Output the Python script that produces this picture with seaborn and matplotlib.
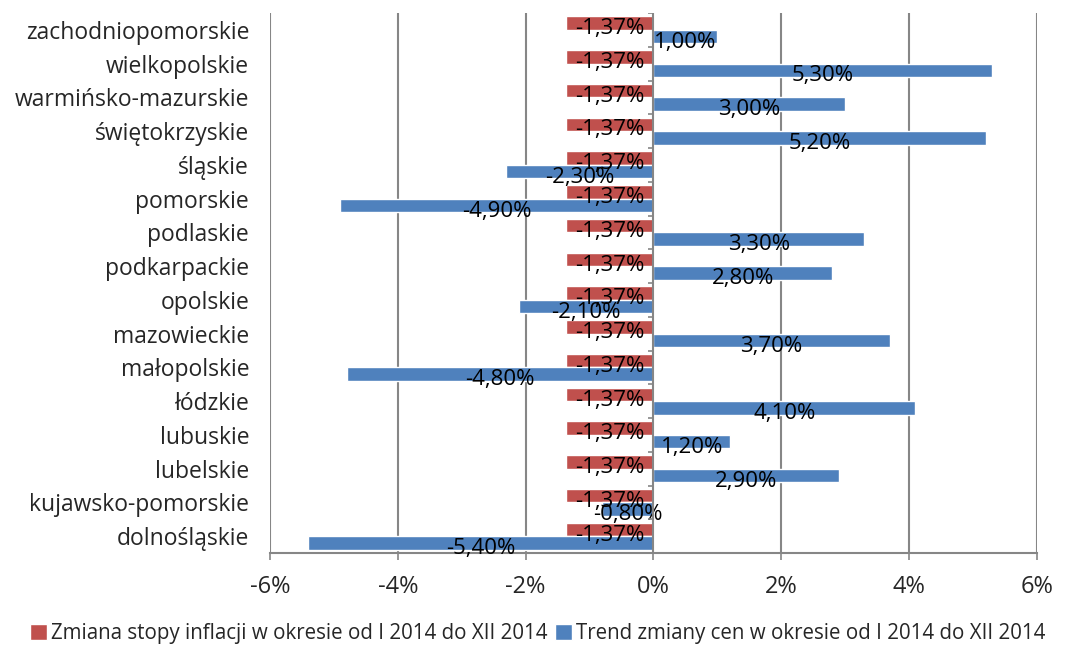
import pandas as pd
import matplotlib.pyplot as plt
import seaborn as sns
import numpy as np

# categories top to bottom, as shown in the chart
regions = ['zachodniopomorskie', 'wielkopolskie', 'warmińsko-mazurskie', 'świętokrzyskie',
           'śląskie', 'pomorskie', 'podlaskie', 'podkarpackie', 'opolskie', 'mazowieckie',
           'małopolskie', 'łódzkie', 'lubuskie', 'lubelskie', 'kujawsko-pomorskie', 'dolnośląskie']
inflation = [-1.37] * 16
trend = [1.0, 5.3, 3.0, 5.2, -2.3, -4.9, 3.3, 2.8, -2.1, 3.7, -4.8, 4.1, 1.2, 2.9, -0.8, -5.4]
series_names = ['Zmiana stopy inflacji w okresie od I 2014 do XII 2014',
                'Trend zmiany cen w okresie od I 2014 do XII 2014']
colors = ['#C0504D', '#4F81BD']

df = pd.DataFrame({
    'region': regions * 2,
    'value': inflation + trend,
    'series': [series_names[0]] * 16 + [series_names[1]] * 16,
})

sns.set_style('white')
plt.rcParams['font.family'] = ['Open Sans', 'DejaVu Sans']

fig = plt.figure(figsize=(10.65, 6.53), dpi=100)
ax = fig.add_axes([0.2535, 0.153, 0.72, 0.827])

sns.barplot(data=df, y='region', x='value', hue='series', hue_order=series_names,
            order=regions, palette=colors, orient='h', width=0.8, ax=ax,
            saturation=1, legend=True)

# data labels centred on bars, nudged slightly down like the original
for cont in ax.containers:
    labels = ['{:.2f}%'.format(v).replace('.', ',') for v in cont.datavalues]
    texts = ax.bar_label(cont, labels=labels, label_type='center', fontsize=16,
                         color='black')
    for t in texts:
        t.xyann = (0, -4)

ax.set_xlim(-6, 6)
ax.set_xticks(np.arange(-6, 7, 2))
ax.set_xticklabels([f'{t}%' for t in range(-6, 7, 2)], fontsize=17)
ax.tick_params(axis='x', length=5, width=1.2, color='#868686', pad=11, direction='out', bottom=True)
ax.tick_params(axis='y', length=0, labelsize=16.5, pad=15)
for t in [-6, -4, -2, 2, 4, 6]:
    ax.axvline(t, color='#868686', lw=1.5, zorder=0)
ax.axvline(0, color='#868686', lw=1.5, zorder=3)
for i in range(len(regions) + 1):
    ax.hlines(i - 0.5, -0.08, 0, color='#868686', lw=1.2, zorder=3)

for s in ['top', 'right', 'left']:
    ax.spines[s].set_visible(False)
ax.spines['bottom'].set_color('#868686')
ax.spines['bottom'].set_linewidth(1.5)
ax.set_xlabel('')
ax.set_ylabel('')
ax.set_ylim(len(regions) - 0.5, -0.5)

handles, lbls = ax.get_legend_handles_labels()
ax.get_legend().remove()
fig.legend(handles, lbls, loc='lower center', bbox_to_anchor=(0.505, -0.015), ncol=2,
           frameon=False, fontsize=14.8, handlelength=0.8, handleheight=0.8,
           handletextpad=0.2, columnspacing=0.4)

fig.savefig('out.png', dpi=100)
